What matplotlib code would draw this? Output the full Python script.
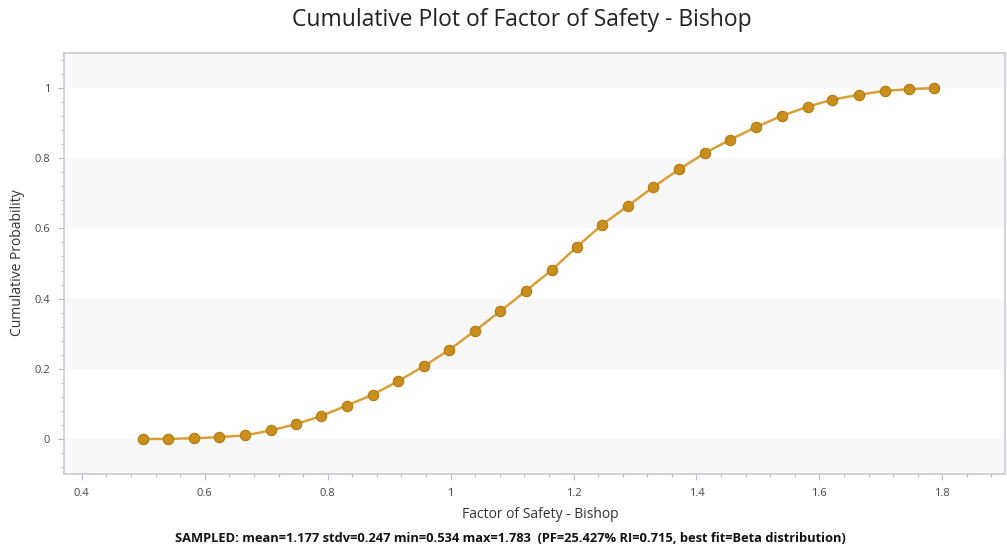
import matplotlib
matplotlib.use("Agg")
import matplotlib.pyplot as plt
from matplotlib.ticker import MultipleLocator, FuncFormatter

plt.rcParams['font.family'] = ['Open Sans', 'DejaVu Sans']

fos = [0.500, 0.540, 0.582, 0.623, 0.665, 0.707, 0.748, 0.789, 0.831, 0.873,
       0.914, 0.956, 0.998, 1.040, 1.081, 1.123, 1.165, 1.205, 1.247, 1.289,
       1.330, 1.372, 1.414, 1.455, 1.497, 1.539, 1.581, 1.621, 1.664, 1.706,
       1.746, 1.787]
cum_prob = [0.000, 0.000, 0.002, 0.005, 0.010, 0.024, 0.042, 0.065, 0.095, 0.126,
            0.164, 0.207, 0.254, 0.309, 0.364, 0.423, 0.482, 0.547, 0.611, 0.665,
            0.718, 0.769, 0.815, 0.853, 0.889, 0.921, 0.947, 0.967, 0.981, 0.992,
            0.997, 1.000]

title = "Cumulative Plot of Factor of Safety - Bishop"
xlabel = "Factor of Safety - Bishop"
ylabel = "Cumulative Probability"
footer = ("SAMPLED: mean=1.177 stdv=0.247 min=0.534 max=1.783  "
          "(PF=25.427% RI=0.715, best fit=Beta distribution)")
bands = [(-0.1, 0.0), (0.2, 0.4), (0.6, 0.8), (1.0, 1.1)]

W, H = 1007, 550
fig = plt.figure(figsize=(W / 100, H / 100), dpi=100)
ax = fig.add_axes([64 / W, 1 - 474 / H, (1005 - 64) / W, (474 - 53) / H])

ax.set_xlim(0.371, 1.902)
ax.set_ylim(-0.1, 1.1)

for lo, hi in bands:
    ax.axhspan(lo, hi, color='#f8f8f8', zorder=0, lw=0)

ax.plot(fos, cum_prob, color='#d9a03a', lw=1.8, marker='o', ms=7.5,
        mfc='#c98e1c', mec='#b07a12', mew=0.8, zorder=3)

ax.xaxis.set_major_locator(MultipleLocator(0.2))
ax.xaxis.set_minor_locator(MultipleLocator(0.04))
ax.yaxis.set_major_locator(MultipleLocator(0.2))
ax.yaxis.set_minor_locator(MultipleLocator(0.04))
fmt = FuncFormatter(lambda v, p: ('%g' % round(v, 2)) if abs(v) > 1e-9 else '0')
ax.xaxis.set_major_formatter(fmt)
ax.yaxis.set_major_formatter(fmt)

ax.tick_params(which='major', length=4, width=0.8, color='#b8bcc4',
               labelsize=8, labelcolor='#444444')
ax.tick_params(which='minor', length=2, width=0.8, color='#b8bcc4')
ax.tick_params(axis='x', pad=6)
ax.tick_params(axis='y', pad=6)

for s in ax.spines.values():
    s.set_color('#c8ccd4')
    s.set_linewidth(1.2)

fig.text(522 / W, 1 - 20 / H, title, ha='center', va='center',
         fontsize=16.5, color='#222222')
fig.text(540 / W, 1 - 514 / H, xlabel, ha='center', va='center',
         fontsize=10, color='#333333')
fig.text(18 / W, 1 - 263 / H, ylabel, ha='center', va='center',
         rotation=90, fontsize=10, color='#333333')
fig.text(510 / W, 1 - 539 / H, footer, ha='center', va='center',
         fontsize=9.3, fontweight='bold', color='#111111')

fig.savefig('out.png', dpi=100)
